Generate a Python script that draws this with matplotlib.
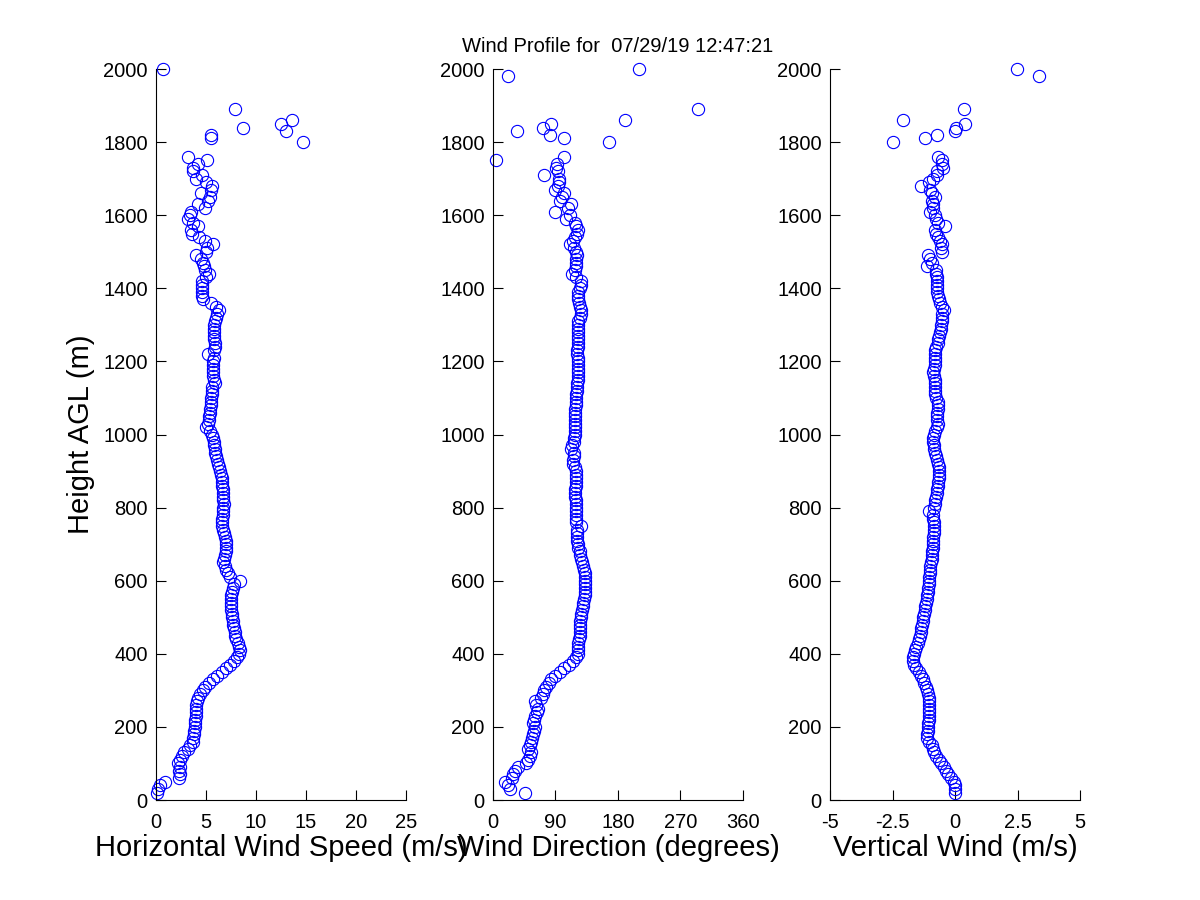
import numpy as np
import matplotlib
matplotlib.use('Agg')
import matplotlib.pyplot as plt

plt.rcParams['font.family'] = ['Liberation Sans', 'DejaVu Sans']

# range gates of the continuous part of the profile (m AGL)
heights = [
    20, 30, 40, 50, 60, 70, 80, 90, 100,
    110, 120, 130, 140, 150, 160, 170, 180, 190, 200,
    210, 220, 230, 240, 250, 260, 270, 280, 290, 300,
    310, 320, 330, 340, 350, 360, 370, 380, 390, 400,
    410, 420, 430, 440, 450, 460, 470, 480, 490, 500,
    510, 520, 530, 540, 550, 560, 570, 580, 590, 600,
    610, 620, 630, 640, 650, 660, 670, 680, 690, 700,
    710, 720, 730, 740, 750, 760, 770, 780, 790, 800,
    810, 820, 830, 840, 850, 860, 870, 880, 890, 900,
    910, 920, 930, 940, 950, 960, 970, 980, 990, 1000,
    1010, 1020, 1030, 1040, 1050, 1060, 1070, 1080, 1090, 1100,
    1110, 1120, 1130, 1140, 1150, 1160, 1170, 1180, 1190, 1200,
    1210, 1220, 1230, 1240, 1250, 1260, 1270, 1280, 1290, 1300,
    1310, 1320, 1330, 1340, 1350, 1360, 1370, 1380, 1390, 1400,
    1410, 1420, 1430, 1440, 1450, 1460, 1470, 1480, 1490, 1500,
    1510, 1520, 1530, 1540, 1550, 1560, 1570, 1580, 1590, 1600,
    1610, 1620, 1630, 1640, 1650, 1660, 1670, 1680, 1690, 1700,
    1710, 1720, 1730, 1740, 1750, 1760,
]

speed = [
    0.1, 0.2, 0.4, 0.9, 2.3, 2.4, 2.3, 2.4, 2.2,
    2.4, 2.6, 2.8, 3.2, 3.4, 3.7, 3.7, 3.8, 3.8, 3.9,
    3.9, 3.9, 4.0, 4.0, 4.0, 4.0, 4.1, 4.2, 4.4, 4.7,
    4.9, 5.3, 5.7, 6.1, 6.6, 7.0, 7.4, 7.8, 8.1, 8.3,
    8.4, 8.3, 8.2, 8.0, 7.9, 7.9, 7.8, 7.7, 7.7, 7.6,
    7.6, 7.5, 7.5, 7.5, 7.5, 7.5, 7.6, 7.7, 7.8, 8.4,
    7.4, 7.2, 7.0, 6.9, 6.7, 6.8, 6.9, 7.0, 7.0, 7.0,
    7.0, 6.9, 6.8, 6.7, 6.6, 6.6, 6.6, 6.7, 6.7, 6.7,
    6.8, 6.7, 6.7, 6.7, 6.7, 6.6, 6.6, 6.6, 6.5, 6.4,
    6.3, 6.2, 6.1, 6.0, 5.9, 5.9, 5.8, 5.8, 5.7, 5.6,
    5.4, 5.0, 5.2, 5.3, 5.3, 5.4, 5.4, 5.5, 5.5, 5.5,
    5.6, 5.6, 5.6, 5.9, 5.8, 5.7, 5.7, 5.7, 5.7, 5.7,
    5.8, 5.2, 5.8, 5.9, 5.9, 5.8, 5.8, 5.8, 5.8, 5.8,
    5.9, 6.0, 6.1, 6.3, 6.0, 5.5, 4.7, 4.6, 4.6, 4.6,
    4.6, 4.6, 5.0, 5.3, 4.9, 4.8, 4.7, 4.5, 4.0, 5.0,
    5.1, 5.7, 4.9, 4.3, 3.6, 3.5, 4.2, 3.7, 3.2, 3.4,
    3.5, 4.9, 4.2, 5.2, 5.4, 4.5, 5.5, 5.6, 5.0, 4.0,
    4.6, 3.7, 3.7, 4.2, 5.1, 3.2,
]

direction = [
    46, 24, 22, 17, 27, 29, 32, 36, 48,
    50, 54, 55, 50, 53, 55, 56, 58, 59, 60,
    58, 59, 61, 63, 65, 62, 60, 69, 72, 74,
    77, 80, 84, 90, 97, 103, 109, 115, 119, 122,
    122, 123, 123, 124, 125, 125, 126, 126, 126, 127,
    127, 128, 129, 130, 131, 133, 133, 133, 133, 133,
    132, 132, 131, 129, 128, 127, 126, 125, 123, 122,
    121, 121, 121, 121, 127, 120, 120, 119, 119, 119,
    119, 119, 118, 118, 118, 119, 119, 119, 119, 119,
    118, 115, 115, 117, 116, 113, 114, 116, 117, 118,
    118, 118, 118, 118, 118, 118, 118, 119, 119, 120,
    120, 121, 121, 121, 122, 122, 122, 122, 123, 123,
    122, 121, 121, 122, 122, 122, 122, 122, 122, 122,
    123, 125, 127, 127, 125, 124, 122, 122, 123, 125,
    127, 127, 120, 114, 118, 120, 120, 120, 121, 119,
    116, 111, 115, 118, 121, 122, 119, 118, 105, 111,
    90, 108, 113, 96, 100, 103, 90, 94, 95, 95,
    73, 94, 91, 92, 4, 103,
]

vertical = [
    0.0, 0.0, 0.0, -0.05, -0.15, -0.28, -0.35, -0.45, -0.55,
    -0.65, -0.75, -0.85, -0.9, -0.93, -1.05, -1.13, -1.12, -1.1, -1.08,
    -1.07, -1.05, -1.04, -1.03, -1.03, -1.03, -1.04, -1.05, -1.07, -1.12,
    -1.17, -1.23, -1.29, -1.36, -1.45, -1.57, -1.63, -1.67, -1.67, -1.66,
    -1.62, -1.55, -1.48, -1.44, -1.41, -1.38, -1.35, -1.32, -1.29, -1.27,
    -1.24, -1.21, -1.19, -1.16, -1.14, -1.12, -1.10, -1.08, -1.06, -1.04,
    -1.03, -1.02, -1.0, -1.0, -0.97, -0.94, -0.92, -0.91, -0.9, -0.89,
    -0.88, -0.87, -0.86, -0.84, -0.84, -0.85, -0.87, -0.9, -1.03, -0.85,
    -0.81, -0.79, -0.76, -0.74, -0.72, -0.69, -0.67, -0.65, -0.63, -0.63,
    -0.66, -0.7, -0.72, -0.76, -0.8, -0.83, -0.86, -0.87, -0.87, -0.86,
    -0.8, -0.73, -0.68, -0.72, -0.73, -0.71, -0.68, -0.67, -0.7, -0.76,
    -0.8, -0.8, -0.8, -0.8, -0.82, -0.85, -0.87, -0.85, -0.82, -0.8,
    -0.8, -0.8, -0.79, -0.75, -0.7, -0.67, -0.63, -0.6, -0.58, -0.55,
    -0.53, -0.53, -0.52, -0.44, -0.52, -0.6, -0.65, -0.68, -0.71, -0.72,
    -0.73, -0.73, -0.73, -0.75, -0.76, -1.13, -0.93, -1.0, -1.07, -0.53,
    -0.55, -0.53, -0.6, -0.69, -0.75, -0.8, -0.4, -0.67, -0.75, -0.8,
    -1.0, -0.87, -0.9, -0.93, -0.8, -0.93, -1.0, -1.37, -1.03, -0.9,
    -0.73, -0.71, -0.47, -0.53, -0.53, -0.67,
]

# sparse gates near the top of the profile
upper_heights = [1800, 1810, 1820, 1830, 1840, 1850, 1860, 1890, 1980, 2000]
upper_speed = [14.7, 5.5, 5.5, 13.0, 8.7, 12.5, 13.6, 7.9, np.nan, 0.7]
upper_direction = [167, 103, 82, 35, 72, 83, 190, 295, 22, 211]
upper_vertical = [-2.47, -1.2, -0.73, 0.0, 0.03, 0.4, -2.07, 0.37, 3.36, 2.49]

title = 'Wind Profile for  07/29/19 12:47:21'

fig = plt.figure(figsize=(12, 9), dpi=100)

panels = [
    (0.130, speed, upper_speed, (0, 25), [0, 5, 10, 15, 20, 25],
     ['0', '5', '10', '15', '20', '25'], 'Horizontal Wind Speed (m/s)'),
    (0.4108, direction, upper_direction, (0, 360), [0, 90, 180, 270, 360],
     ['0', '90', '180', '270', '360'], 'Wind Direction (degrees)'),
    (0.6917, vertical, upper_vertical, (-5, 5), [-5, -2.5, 0, 2.5, 5],
     ['-5', '-2.5', '0', '2.5', '5'], 'Vertical Wind (m/s)'),
]

axes = []
for left, vals, upper, xlim, xticks, xticklabels, xlabel in panels:
    ax = fig.add_axes([left, 0.1111, 0.2083, 0.8122])
    for h, v in ((heights, vals), (upper_heights, upper)):
        ax.plot(v, h, 'o', mfc='none', mec='#0000ff', ms=8.8, mew=0.8,
                clip_on=False)
    ax.set_xlim(*xlim)
    ax.set_ylim(0, 2000)
    ax.set_xticks(xticks)
    ax.set_xticklabels(xticklabels)
    ax.set_yticks(range(0, 2001, 200))
    ax.tick_params(direction='in', length=7, width=0.8, labelsize=14.5)
    ax.tick_params(axis='x', pad=9)
    ax.tick_params(axis='y', pad=6)
    for side in ('top', 'right'):
        ax.spines[side].set_visible(False)
    for side in ('left', 'bottom'):
        ax.spines[side].set_linewidth(0.8)
    ax.set_xlabel(xlabel, fontsize=21, labelpad=2)
    axes.append(ax)

axes[0].set_ylabel('Height AGL (m)', fontsize=21, labelpad=6)
axes[1].set_title(title, fontsize=14.5, pad=12)

plt.savefig('out.png', dpi=100)
